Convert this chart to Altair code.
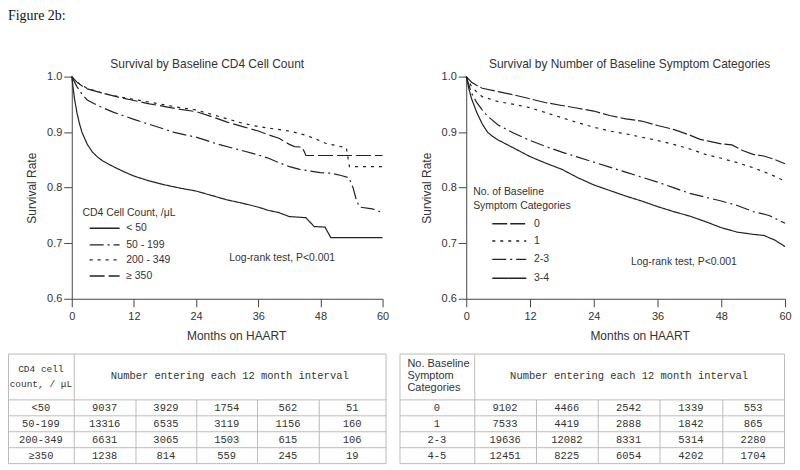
import altair as alt
import pandas as pd

# ---------------------------------------------------------------- data
FIG_LABEL = "Figure 2b:"
X_TICKS = [0, 12, 24, 36, 48, 60]
Y_TICKS = [0.6, 0.7, 0.8, 0.9, 1.0]
X_TITLE = "Months on HAART"
Y_TITLE = "Survival Rate"
LOGRANK = "Log-rank test, P<0.001"

# Left panel: survival by baseline CD4 cell count
CD4_TITLE = "Survival by Baseline CD4 Cell Count"
CD4_LEGEND_TITLE = ["CD4 Cell Count, /μL"]
CD4_GROUPS = ["< 50", "50 - 199", "200 - 349", "≥ 350"]

CD4_LT50_MONTH = [0, 0.5, 1, 1.5, 2, 3, 4, 5, 6, 8, 10, 12, 15, 18, 21, 24, 27, 30, 33, 36,
                  38, 40, 42, 45.2, 46.8, 48.9, 50.0, 60]
CD4_LT50_SURV = [1.0, 0.962, 0.935, 0.915, 0.899, 0.878, 0.864, 0.855, 0.848, 0.838, 0.829,
                 0.821, 0.812, 0.805, 0.799, 0.794, 0.786, 0.778, 0.772, 0.765, 0.759, 0.755,
                 0.748, 0.746, 0.730, 0.729, 0.710, 0.710]

CD4_50_199_MONTH = [0, 1, 2, 3, 5, 8, 12, 16, 20, 24, 28, 32, 36, 38, 40, 42, 44, 46, 48, 50,
                    52, 53.5, 54.3, 55.0, 55.6, 58, 60]
CD4_50_199_SURV = [1.0, 0.982, 0.968, 0.958, 0.948, 0.936, 0.923, 0.911, 0.899, 0.891, 0.879,
                   0.869, 0.859, 0.853, 0.845, 0.838, 0.833, 0.830, 0.827, 0.826, 0.822, 0.818,
                   0.800, 0.776, 0.765, 0.762, 0.755]

CD4_200_349_MONTH = [0, 1, 2, 3, 6, 9, 12, 15, 18, 21, 24, 27, 30, 33, 36, 39, 42, 45, 47, 49,
                     51, 53, 53.6, 60]
CD4_200_349_SURV = [1.0, 0.990, 0.984, 0.979, 0.970, 0.964, 0.959, 0.954, 0.949, 0.944, 0.940,
                    0.932, 0.924, 0.916, 0.910, 0.906, 0.902, 0.895, 0.888, 0.880, 0.876, 0.872,
                    0.838, 0.838]

CD4_GE350_MONTH = [0, 1, 2, 3, 6, 9, 12, 15, 18, 21, 24, 27, 30, 33, 36, 38, 40, 42, 43, 44.5,
                   45.2, 60]
CD4_GE350_SURV = [1.0, 0.990, 0.983, 0.978, 0.970, 0.963, 0.957, 0.951, 0.946, 0.941, 0.937,
                  0.928, 0.918, 0.910, 0.902, 0.895, 0.889, 0.878, 0.874, 0.873, 0.858, 0.858]

# Right panel: survival by number of baseline symptom categories
SYM_TITLE = "Survival by Number of Baseline Symptom Categories"
SYM_LEGEND_TITLE = ["No. of Baseline", "Symptom Categories"]
SYM_GROUPS = ["0", "1", "2-3", "3-4"]

SYM0_MONTH = [0, 1, 2, 3, 6, 9, 12, 15, 18, 21, 24, 27, 30, 33, 36, 39, 42, 44, 46, 48, 50, 52,
              54, 56, 58, 60]
SYM0_SURV = [1.0, 0.990, 0.984, 0.979, 0.973, 0.967, 0.960, 0.953, 0.948, 0.943, 0.938, 0.930,
             0.924, 0.920, 0.912, 0.905, 0.895, 0.887, 0.883, 0.879, 0.877, 0.867, 0.860, 0.857,
             0.851, 0.843]

SYM1_MONTH = [0, 1, 2, 3, 6, 9, 12, 15, 18, 21, 24, 27, 30, 33, 36, 39, 42, 45, 48, 51, 54, 57, 60]
SYM1_SURV = [1.0, 0.982, 0.972, 0.964, 0.955, 0.950, 0.944, 0.935, 0.926, 0.917, 0.909, 0.902,
             0.897, 0.891, 0.885, 0.878, 0.870, 0.860, 0.853, 0.845, 0.836, 0.825, 0.812]

SYM23_MONTH = [0, 1, 2, 3, 4, 6, 9, 12, 15, 18, 21, 24, 27, 30, 33, 36, 39, 42, 45, 48, 51, 54,
               57, 60]
SYM23_SURV = [1.0, 0.970, 0.953, 0.940, 0.929, 0.913, 0.898, 0.885, 0.874, 0.864, 0.855, 0.846,
              0.837, 0.828, 0.819, 0.810, 0.800, 0.790, 0.783, 0.776, 0.768, 0.757, 0.750, 0.736]

SYM34_MONTH = [0, 0.5, 1, 2, 3, 4, 5, 6, 8, 10, 12, 15, 18, 21, 24, 27, 30, 33, 36, 39, 42, 45,
               48, 51, 54, 56, 58, 60]
SYM34_SURV = [1.0, 0.978, 0.960, 0.935, 0.915, 0.900, 0.892, 0.886, 0.876, 0.866, 0.856, 0.844,
              0.833, 0.818, 0.805, 0.795, 0.785, 0.776, 0.766, 0.757, 0.749, 0.739, 0.728, 0.720,
              0.716, 0.714, 0.706, 0.694]

# Tables: number entering each 12 month interval
TABLE_HEADER = "Number entering each 12 month interval"
CD4_TABLE_CORNER = ["CD4 cell", "count, / μL"]
CD4_TABLE_ROWS = ["<50", "50-199", "200-349", "≥350"]
CD4_TABLE_COUNTS = [
    [9037, 3929, 1754, 562, 51],
    [13316, 6535, 3119, 1156, 160],
    [6631, 3065, 1503, 615, 106],
    [1238, 814, 559, 245, 19],
]
SYM_TABLE_CORNER = ["No. Baseline", "Symptom", "Categories"]
SYM_TABLE_ROWS = ["0", "1", "2-3", "4-5"]
SYM_TABLE_COUNTS = [
    [9102, 4466, 2542, 1339, 553],
    [7533, 4419, 2888, 1842, 865],
    [19636, 12082, 8331, 5314, 2280],
    [12451, 8225, 6054, 4202, 1704],
]

# ---------------------------------------------------------------- layout / style
INK = "#333333"
LINE_INK = "#222222"
AXIS_INK = "#444444"
GRID_INK = "#bcbcbc"
SANS = "Liberation Sans"
MONO = "Liberation Mono"
SERIF = "Liberation Serif"

PLOT_H = 223
CD4_DASHES = [[1, 0], [14, 4, 2, 4], [3, 5], [15, 4]]
SYM_DASHES = [[15, 3], [3, 5], [14, 4, 2, 4], [1, 0]]


def curves_frame(groups, months, survs):
    rows = []
    for g, ms, ss in zip(groups, months, survs):
        for i, (m, s) in enumerate(zip(ms, ss)):
            rows.append({"group": g, "month": m, "surv": s, "i": i})
    return pd.DataFrame(rows)


def table_marks(edges, rows_y, corner, corner_mono, row_labels, counts):
    """Grid and text of a count table, in pixel coordinates relative to the panel."""
    x0, x1 = edges[0] + 0.5, edges[-1] + 0.5
    segs = []
    for y in rows_y:
        segs.append({"x": x0, "x2": x1, "y": y + 0.5, "y2": y + 0.5})
    for x in (edges[0], edges[1], edges[-1]):
        segs.append({"x": x + 0.5, "x2": x + 0.5, "y": rows_y[0] + 0.5, "y2": rows_y[-1] + 0.5})
    for x in edges[2:-1]:
        segs.append({"x": x + 0.5, "x2": x + 0.5, "y": rows_y[1] + 0.5, "y2": rows_y[-1] + 0.5})
    grid = alt.Chart(pd.DataFrame(segs)).mark_rule(color=GRID_INK, strokeWidth=1).encode(
        x=alt.X("x:Q", scale=None), x2="x2:Q",
        y=alt.Y("y:Q", scale=None), y2="y2:Q",
    )

    head_cy = (rows_y[0] + rows_y[1]) / 2
    cells = [{"x": (edges[1] + edges[-1]) / 2, "y": head_cy, "text": TABLE_HEADER}]
    for r, (lab, vals) in enumerate(zip(row_labels, counts)):
        cy = (rows_y[r + 1] + rows_y[r + 2]) / 2 + 0.5
        cells.append({"x": (edges[0] + edges[1]) / 2, "y": cy, "text": lab})
        for c, v in enumerate(vals):
            cells.append({"x": (edges[c + 1] + edges[c + 2]) / 2, "y": cy, "text": str(v)})
    layers = [grid]

    n = len(corner)
    if corner_mono:
        corner_rows = [{"x": (edges[0] + edges[1]) / 2,
                        "y": head_cy + (k - (n - 1) / 2) * 15, "text": t}
                       for k, t in enumerate(corner)]
        layers.append(alt.Chart(pd.DataFrame(corner_rows)).mark_text(
            align="center", baseline="middle", fontSize=9.5, font=MONO, color=INK
        ).encode(x=alt.X("x:Q", scale=None), y=alt.Y("y:Q", scale=None), text="text:N"))
    else:
        corner_rows = [{"x": edges[0] + 8, "y": head_cy + (k - (n - 1) / 2) * 12, "text": t}
                       for k, t in enumerate(corner)]
        layers.append(alt.Chart(pd.DataFrame(corner_rows)).mark_text(
            align="left", baseline="middle", fontSize=11, font=SANS, color=INK
        ).encode(x=alt.X("x:Q", scale=None), y=alt.Y("y:Q", scale=None), text="text:N"))

    layers.append(alt.Chart(pd.DataFrame(cells)).mark_text(
        align="center", baseline="middle", fontSize=10.5, font=MONO, color=INK
    ).encode(x=alt.X("x:Q", scale=None), y=alt.Y("y:Q", scale=None), text="text:N"))
    return layers


def km_panel(curves, groups, dashes, width, title, title_xy, x_title_x, legend_title, leg,
             table, extra=None):
    xs = alt.Scale(domain=[0, 60], nice=False, zero=False)
    ys = alt.Scale(domain=[0.6, 1.0], nice=False, zero=False)
    dash = alt.StrokeDash("group:N", scale=alt.Scale(domain=groups, range=dashes), legend=None)

    x_axis = alt.Axis(values=X_TICKS, format="d", title=X_TITLE, titleX=x_title_x,
                      labelPadding=4, titlePadding=9)
    y_axis = alt.Axis(values=Y_TICKS, format=".1f", title=Y_TITLE, labelPadding=2,
                      titlePadding=8)

    lines = alt.Chart(curves).mark_line(strokeWidth=1.2, color=LINE_INK).encode(
        x=alt.X("month:Q", scale=xs, axis=x_axis),
        y=alt.Y("surv:Q", scale=ys, axis=y_axis),
        strokeDash=dash,
        order=alt.Order("i:Q"),
    )

    # legend drawn inside the plot, in data coordinates
    leg_rows = pd.DataFrame({
        "group": groups,
        "month": [leg["x0"]] * len(groups),
        "month_end": [leg["x1"]] * len(groups),
        "surv": leg["rows"],
    })
    leg_rules = alt.Chart(leg_rows).mark_rule(strokeWidth=1.4, color=LINE_INK).encode(
        x=alt.X("month:Q", scale=xs),
        x2="month_end:Q",
        y=alt.Y("surv:Q", scale=ys),
        strokeDash=dash,
    )
    texts = pd.DataFrame({
        "month": [leg["tx"]] * len(legend_title) + [leg["lx"]] * len(groups) + [leg["rx"]],
        "surv": leg["title_y"] + leg["rows"] + [leg["ry"]],
        "text": legend_title + groups + [LOGRANK],
    })
    leg_text = alt.Chart(texts).mark_text(align="left", baseline="middle", fontSize=10.5,
                                          font=SANS, color=INK).encode(
        x=alt.X("month:Q", scale=xs),
        y=alt.Y("surv:Q", scale=ys),
        text="text:N",
    )
    ttl = alt.Chart(pd.DataFrame({"t": [title]})).mark_text(
        align="center", baseline="middle", fontSize=12, font=SANS, color=INK
    ).encode(x=alt.value(title_xy[0]), y=alt.value(title_xy[1]), text="t:N")
    layers = [lines, leg_rules, leg_text, ttl] + table
    if extra is not None:
        layers.append(extra)
    return alt.layer(*layers).properties(width=width, height=PLOT_H)


# ---------------------------------------------------------------- panels
cd4_curves = curves_frame(
    CD4_GROUPS,
    [CD4_LT50_MONTH, CD4_50_199_MONTH, CD4_200_349_MONTH, CD4_GE350_MONTH],
    [CD4_LT50_SURV, CD4_50_199_SURV, CD4_200_349_SURV, CD4_GE350_SURV],
)
sym_curves = curves_frame(
    SYM_GROUPS,
    [SYM0_MONTH, SYM1_MONTH, SYM23_MONTH, SYM34_MONTH],
    [SYM0_SURV, SYM1_SURV, SYM23_SURV, SYM34_SURV],
)

fig_label = alt.Chart(pd.DataFrame({"t": [FIG_LABEL]})).mark_text(
    align="left", baseline="top", fontSize=14, font=SERIF, color="#111111"
).encode(x=alt.value(-64), y=alt.value(-68), text="t:N")

TABLE_ROWS_Y = [278, 324, 340, 356, 372, 388]
cd4_table = table_marks([-64, 2, 64, 125, 186, 248, 315], TABLE_ROWS_Y,
                        CD4_TABLE_CORNER, True, CD4_TABLE_ROWS, CD4_TABLE_COUNTS)
sym_table = table_marks([-67, 8, 70, 132, 194, 257, 319], TABLE_ROWS_Y,
                        SYM_TABLE_CORNER, False, SYM_TABLE_ROWS, SYM_TABLE_COUNTS)

left = km_panel(
    cd4_curves, CD4_GROUPS, CD4_DASHES, 312, CD4_TITLE, (136, -13), 165,
    CD4_LEGEND_TITLE,
    dict(tx=2.06, title_y=[0.754], x0=3.46, x1=9.23, lx=10.5,
         rows=[0.727, 0.697, 0.670, 0.641], rx=30.4, ry=0.673),
    cd4_table,
    extra=fig_label,
)
right = km_panel(
    sym_curves, SYM_GROUPS, SYM_DASHES, 320, SYM_TITLE, (164, -13), 174,
    SYM_LEGEND_TITLE,
    dict(tx=1.3, title_y=[0.792, 0.767], x0=4.9, x1=11.3, lx=12.75,
         rows=[0.735, 0.704, 0.671, 0.637], rx=31.0, ry=0.667),
    sym_table,
)

chart = (
    alt.hconcat(left, right, spacing=84, bounds="flush")
    .resolve_scale(strokeDash="independent")
    .properties(padding=0, background="white")
    .configure_view(stroke=None)
    .configure_axis(
        grid=False, domainColor=AXIS_INK, tickColor=AXIS_INK, tickSize=8,
        labelColor=INK, titleColor=INK, labelFont=SANS, titleFont=SANS,
        labelFontSize=11, titleFontSize=12, titleFontWeight="normal", labelFlush=False,
        domainWidth=1, tickWidth=1,
    )
)

chart.save("out.html", embed_options={"renderer": "svg", "actions": False})
